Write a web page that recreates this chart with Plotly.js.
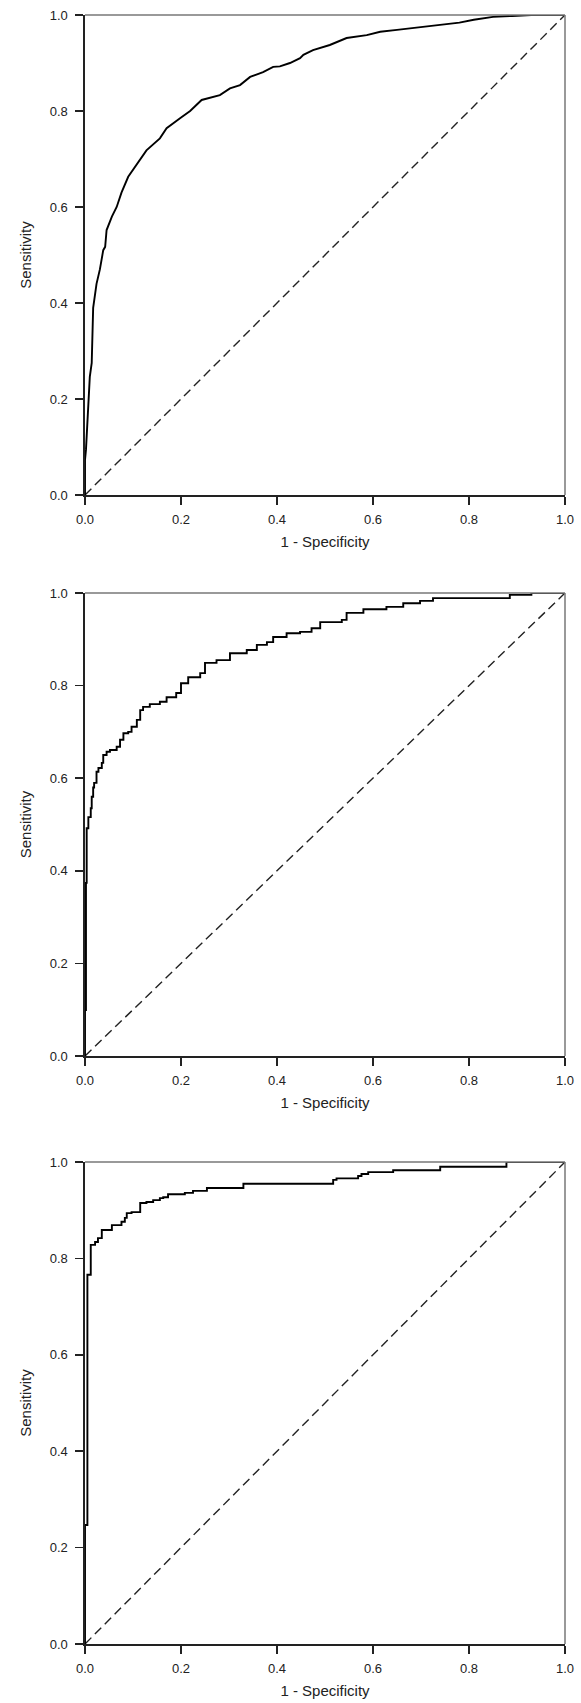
<!DOCTYPE html>
<html>
<head>
<meta charset="utf-8">
<script src="https://cdn.plot.ly/plotly-3.0.1.min.js"></script>
<style>html,body{margin:0;padding:0;background:#fff;}#chart{width:581px;height:1703px;}</style>
</head>
<body>
<div id="chart"></div>
<script>
// Panel 1 ROC curve (1 - specificity, sensitivity)
var roc1X = [0,0,0.002,0.006,0.010,0.014,0.017,0.024,0.031,0.038,0.042,0.045,0.056,0.066,0.076,0.090,0.108,0.128,0.156,0.170,0.198,0.219,0.243,0.281,0.302,0.323,0.344,0.371,0.392,0.406,0.427,0.448,0.455,0.475,0.510,0.545,0.587,0.615,0.650,0.698,0.740,0.780,0.810,0.850,0.890,0.930,1.0];
var roc1Y = [0,0.073,0.094,0.180,0.246,0.275,0.390,0.440,0.470,0.510,0.517,0.552,0.580,0.600,0.630,0.663,0.690,0.718,0.743,0.764,0.785,0.800,0.823,0.833,0.847,0.854,0.871,0.881,0.892,0.893,0.900,0.910,0.917,0.927,0.9375,0.952,0.958,0.965,0.969,0.975,0.979,0.984,0.990,0.996,0.998,1.0,1.0];

// Panel 2 ROC curve (step corners)
var roc2X = [0,0,0.002,0.0035,0.007,0.012,0.014,0.017,0.019,0.024,0.028,0.035,0.038,0.045,0.052,0.066,0.073,0.080,0.090,0.097,0.108,0.115,0.121,0.135,0.156,0.170,0.190,0.200,0.215,0.240,0.250,0.274,0.302,0.337,0.358,0.379,0.392,0.420,0.448,0.472,0.490,0.535,0.545,0.580,0.628,0.663,0.698,0.725,0.885,0.930,1.0];
var roc2Y = [0,0.099,0.374,0.492,0.516,0.535,0.560,0.580,0.590,0.614,0.622,0.633,0.650,0.657,0.661,0.668,0.683,0.697,0.700,0.711,0.726,0.747,0.754,0.760,0.765,0.775,0.784,0.805,0.818,0.827,0.849,0.855,0.870,0.877,0.888,0.894,0.905,0.913,0.916,0.924,0.937,0.942,0.957,0.965,0.970,0.978,0.983,0.989,0.996,1.0,1.0];

// Panel 3 ROC curve (step corners)
var roc3X = [0,0,0.005,0.012,0.021,0.027,0.035,0.056,0.076,0.083,0.087,0.097,0.115,0.128,0.142,0.156,0.163,0.173,0.208,0.225,0.254,0.330,0.517,0.524,0.569,0.576,0.590,0.642,0.740,0.878,1.0];
var roc3Y = [0,0.247,0.766,0.828,0.834,0.842,0.859,0.869,0.876,0.884,0.894,0.896,0.915,0.917,0.921,0.925,0.927,0.933,0.936,0.940,0.946,0.955,0.963,0.966,0.971,0.975,0.979,0.983,0.990,1.0,1.0];

// Reference diagonal
var diagX = [0, 1];
var diagY = [0, 1];

var tickVals = [0, 0.2, 0.4, 0.6, 0.8, 1.0];
var xTitle = "1 - Specificity";
var yTitle = "Sensitivity";

var W = 581, H = 1703;
var mL = 85, mR = 16, mT = 15, mB = 59;
var plotH = H - mT - mB;
function dom(topPx, botPx) {
  return [(H - mB - botPx) / plotH, (H - mB - topPx) / plotH];
}
var panels = [
  {x: roc1X, y: roc1Y, shape: 'linear', top: 15, bot: 495},
  {x: roc2X, y: roc2Y, shape: 'hv', top: 593, bot: 1056},
  {x: roc3X, y: roc3Y, shape: 'hv', top: 1162, bot: 1644}
];

var tickFont = {family: "Liberation Sans, Arial, sans-serif", size: 13, color: "#222"};
var titleFont = {family: "Liberation Sans, Arial, sans-serif", size: 15, color: "#222"};

var data = [];
var layout = {
  width: W, height: H,
  margin: {l: mL, r: mR, t: mT, b: mB},
  paper_bgcolor: "#fff", plot_bgcolor: "#fff",
  showlegend: false,
  shapes: []
};

panels.forEach(function (p, i) {
  var n = i + 1;
  var xa = 'x' + (n === 1 ? '' : n), ya = 'y' + (n === 1 ? '' : n);
  data.push({x: diagX, y: diagY, xaxis: xa, yaxis: ya, mode: 'lines', type: 'scatter',
    line: {color: '#222', width: 1.4, dash: '9px,5px'}, hoverinfo: 'skip'});
  data.push({x: p.x, y: p.y, xaxis: xa, yaxis: ya, mode: 'lines', type: 'scatter',
    line: {color: '#000', width: 1.9, shape: p.shape}});
  var axBase = {
    range: [0, 1], tickvals: tickVals, tickformat: '.1f',
    showgrid: false, zeroline: false, showline: true, linecolor: '#222', linewidth: 1.6,
    ticks: 'outside', ticklen: 8, tickwidth: 1.5, tickcolor: '#222',
    tickfont: tickFont, fixedrange: true, automargin: false
  };
  var xk = 'xaxis' + (n === 1 ? '' : n), yk = 'yaxis' + (n === 1 ? '' : n);
  layout[xk] = Object.assign({}, axBase, {
    domain: [0, 1], anchor: ya, ticklabelstandoff: 4,
    title: {text: xTitle, font: titleFont, standoff: 10}
  });
  layout[yk] = Object.assign({}, axBase, {
    domain: dom(p.top, p.bot), anchor: xa, ticklabelstandoff: 5,
    title: {text: yTitle, font: titleFont, standoff: 14}
  });
  var xd = xa + ' domain', yd = ya + ' domain';
  layout.shapes.push({type: 'line', xref: xd, yref: yd, x0: 0, x1: 1, y0: 1, y1: 1,
    line: {color: '#777', width: 1.5}});
  layout.shapes.push({type: 'line', xref: xd, yref: yd, x0: 1, x1: 1, y0: 0, y1: 1,
    line: {color: '#777', width: 1.5}});
});

Plotly.newPlot('chart', data, layout, {displayModeBar: false, staticPlot: true});
</script>
</body>
</html>
